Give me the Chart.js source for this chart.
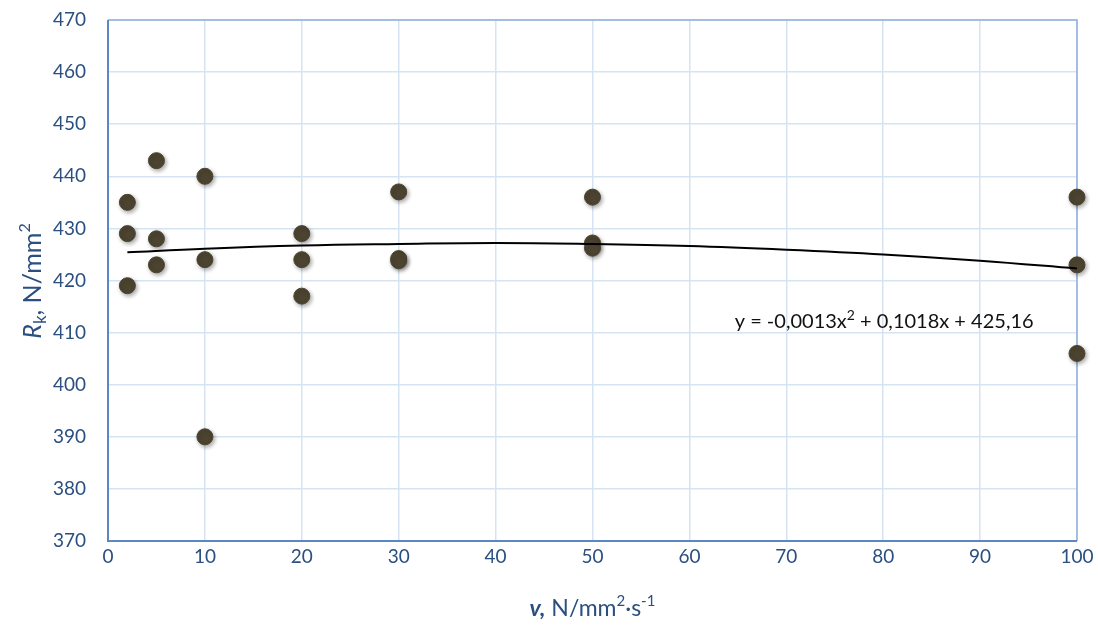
<!DOCTYPE html>
<html>
<head>
<meta charset="utf-8">
<script src="https://cdn.jsdelivr.net/npm/chart.js@4"></script>
<style>
  html, body { margin: 0; padding: 0; background: #fff; }
  #wrap { width: 1098px; height: 626px; }
</style>
</head>
<body>
<div id="wrap"><canvas id="chart" width="1098" height="626"></canvas></div>
<script>
// measured points (v, Rk)
var speeds = [2, 2, 2, 5, 5, 5, 10, 10, 10, 20, 20, 20, 30, 30, 30, 50, 50, 50, 100, 100, 100];
var strength = [435, 429, 419, 443, 428, 423, 440, 424, 390, 429, 424, 417, 437, 424.2, 423.8, 436, 427.2, 426.2, 436, 423, 406];

// trend line
var trendX = [2, 10, 20, 30, 40, 50, 60, 70, 80, 90, 100];
var trendY = [425.4, 426.1, 426.7, 427.0, 427.2, 427.0, 426.6, 425.9, 425.0, 423.8, 422.3];

var FONT = 'Lato, "Open Sans", sans-serif';
var BLUE = '#2a4f80';

function pairs(xs, ys) {
    return xs.map(function(x, i) { return { x: x, y: ys[i] }; });
}

// draw a run of [text, font, dy] pieces centred on cx
function drawRun(c, parts, cx, y) {
    var total = 0;
    parts.forEach(function(p) { c.font = p[1]; total += c.measureText(p[0]).width; });
    var x = cx - total / 2;
    parts.forEach(function(p) {
        c.font = p[1];
        c.fillText(p[0], x, y + (p[2] || 0));
        x += c.measureText(p[0]).width;
    });
}

var extras = {
    id: 'extras',
    beforeDatasetDraw: function(chart, args) {
        if (args.index === 1) {
            var c = chart.ctx;
            c.save();
            c.shadowColor = 'rgba(0,0,0,0.35)';
            c.shadowBlur = 4;
            c.shadowOffsetX = 1.5;
            c.shadowOffsetY = 2;
        }
    },
    afterDatasetDraw: function(chart, args) {
        if (args.index === 1) chart.ctx.restore();
    },
    beforeDatasetsDraw: function(chart) {
        var c = chart.ctx, a = chart.chartArea;
        c.save();
        // frame
        c.strokeStyle = '#8fb0dc';
        c.lineWidth = 1.5;
        c.beginPath();
        c.moveTo(a.left, a.top); c.lineTo(a.right, a.top); c.lineTo(a.right, a.bottom);
        c.stroke();
        c.strokeStyle = '#5b87c4';
        c.lineWidth = 2;
        c.beginPath();
        c.moveTo(a.left, a.top); c.lineTo(a.left, a.bottom); c.lineTo(a.right, a.bottom);
        c.stroke();
        c.restore();
    },
    afterDraw: function(chart) {
        var c = chart.ctx, a = chart.chartArea;
        c.save();
        c.textAlign = 'left';
        c.textBaseline = 'alphabetic';

        // equation
        var sx = chart.scales.x, sy = chart.scales.y;
        c.fillStyle = '#111';
        var ef = '20px ' + FONT, es = '14px ' + FONT;
        drawRun(c, [
            ['y = -0,0013x', ef], ['2', es, -8], [' + 0,1018x + 425,16', ef]
        ], sx.getPixelForValue(80.1), sy.getPixelForValue(410.8));

        // x title
        c.fillStyle = BLUE;
        var tf = '23px ' + FONT, ts = '15px ' + FONT;
        drawRun(c, [
            ['v,', 'italic bold 23px ' + FONT], [' N/mm', tf], ['2', ts, -10],
            ['·s', tf], ['-1', ts, -10]
        ], (a.left + a.right) / 2, 616);

        // y title
        c.translate(41, 281);
        c.rotate(-Math.PI / 2);
        var yf = '25px ' + FONT;
        drawRun(c, [
            ['R', 'italic 25px ' + FONT], ['k', '17px ' + FONT, 5], [', N/mm', yf], ['2', '16px ' + FONT, -11]
        ], 0, 0);
        c.restore();
    }
};

new Chart(document.getElementById('chart').getContext('2d'), {
    type: 'scatter',
    data: {
        datasets: [{
            label: 'trend',
            type: 'line',
            data: pairs(trendX, trendY),
            borderColor: '#000',
            borderWidth: 2,
            pointRadius: 0,
            fill: false,
            tension: 0.4,
            order: 1
        }, {
            label: 'Rk',
            data: pairs(speeds, strength),
            backgroundColor: '#4c4430',
            borderColor: '#4c4430',
            pointRadius: 8,
            pointHoverRadius: 8,
            clip: false,
            order: 2
        }]
    },
    options: {
        responsive: false,
        animation: false,
        events: [],
        layout: { padding: { top: 20, right: 21, left: 0, bottom: 0 } },
        plugins: {
            legend: { display: false },
            tooltip: { enabled: false }
        },
        scales: {
            x: {
                type: 'linear',
                min: 0,
                max: 100,
                ticks: { stepSize: 10, color: BLUE, padding: 4, font: { family: FONT, size: 19 } },
                grid: { color: '#d6e3f3', lineWidth: 1.5, drawTicks: false },
                border: { display: false },
                afterFit: function(s) { s.height = 85; s.paddingLeft = 0; s.paddingRight = 0; }
            },
            y: {
                min: 370,
                max: 470,
                ticks: { stepSize: 10, color: BLUE, padding: 22, font: { family: FONT, size: 19 } },
                grid: { color: '#d6e3f3', lineWidth: 1.5, drawTicks: false },
                border: { display: false },
                afterFit: function(s) { s.width = 108; s.paddingTop = 0; s.paddingBottom = 0; }
            }
        }
    },
    plugins: [extras]
});
</script>
</body>
</html>
